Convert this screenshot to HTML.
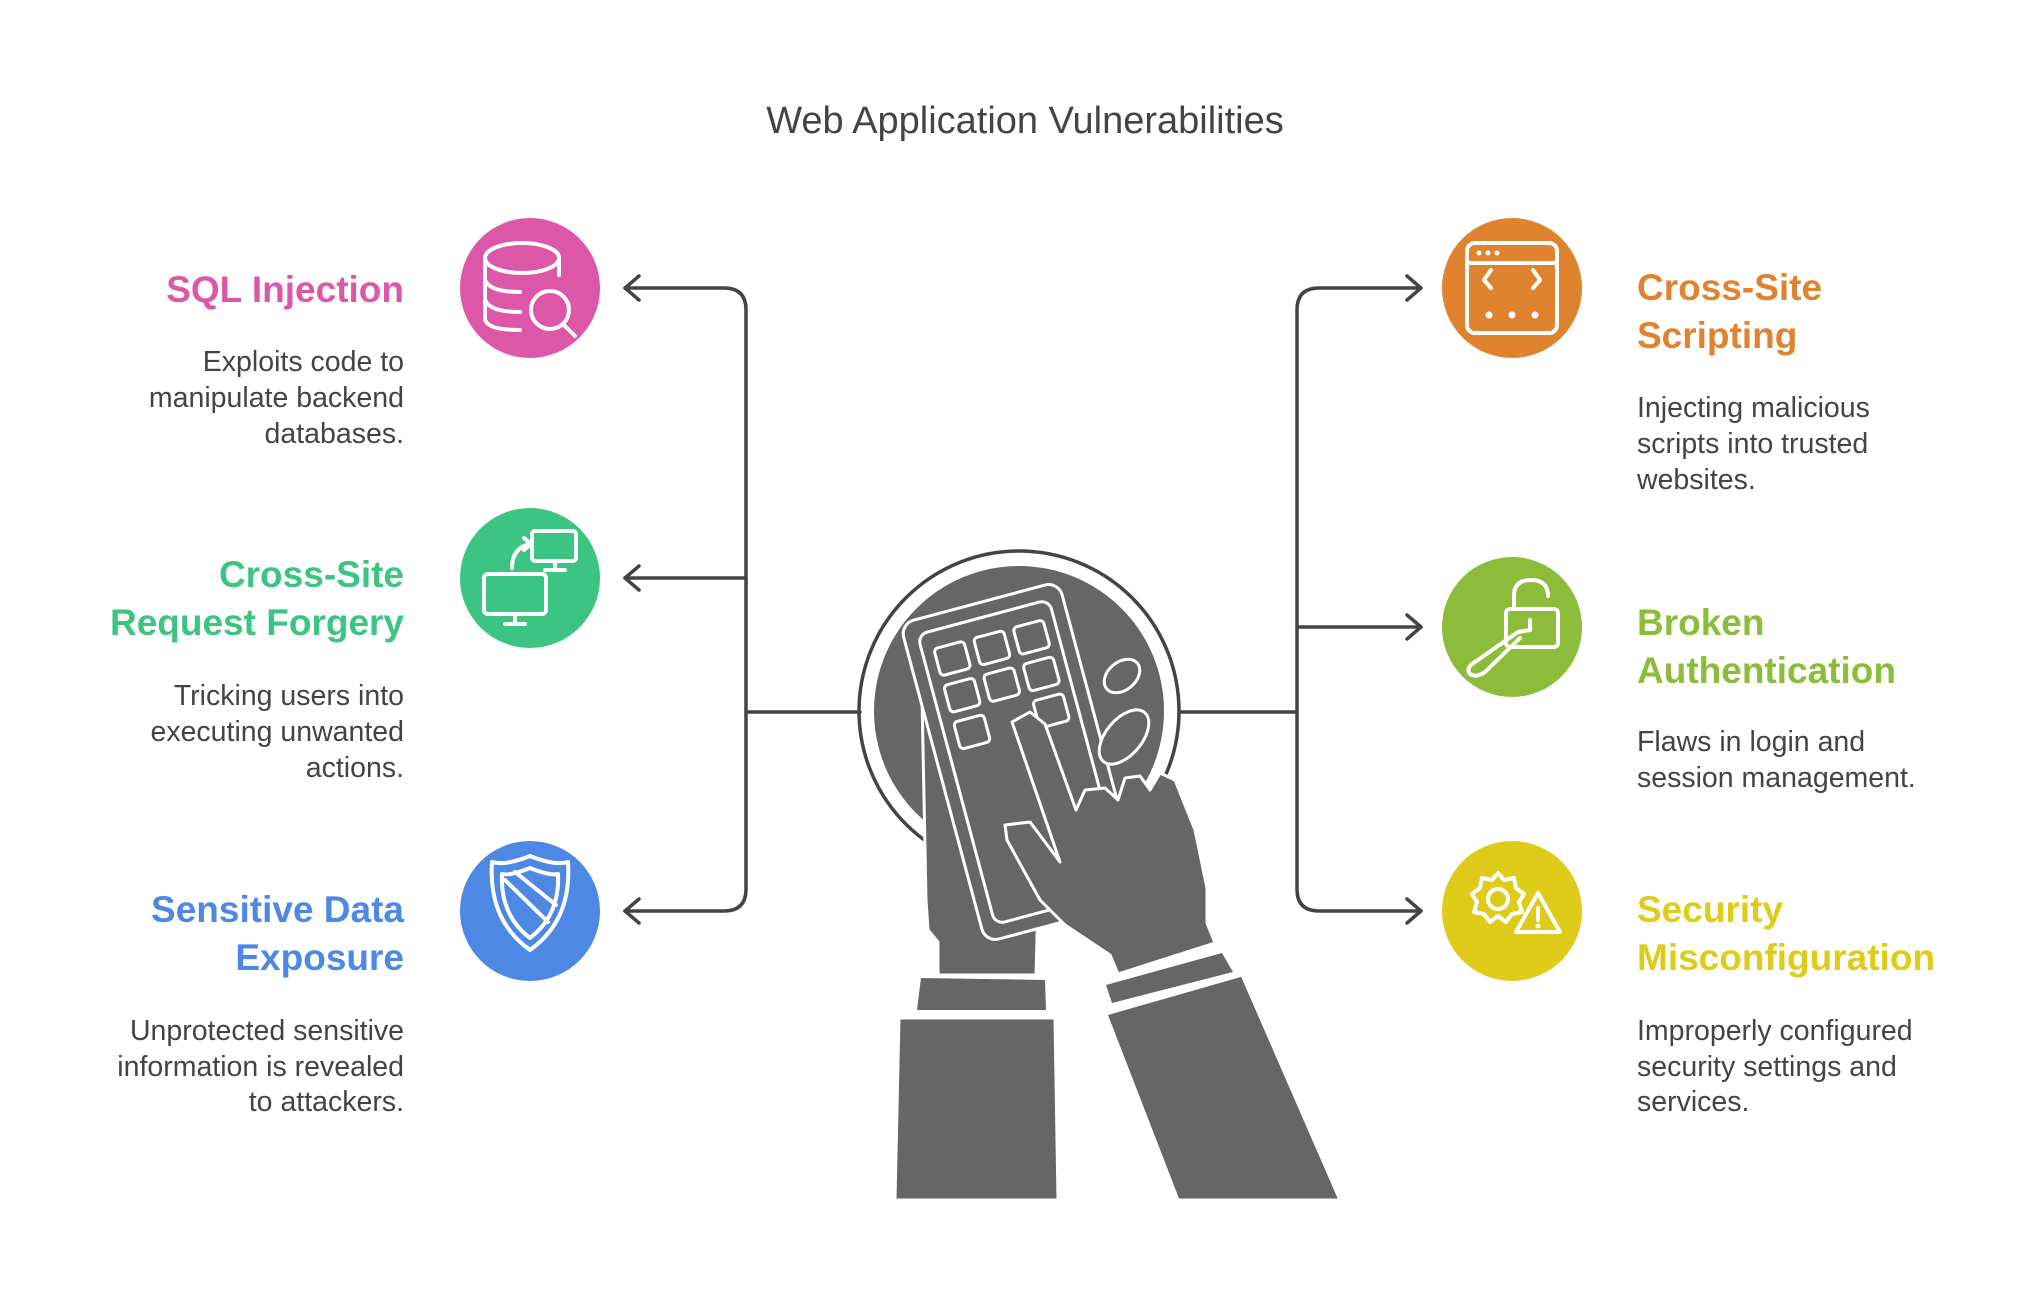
<!DOCTYPE html>
<html><head><meta charset="utf-8"><style>
html,body{margin:0;padding:0;background:#fff;}
svg{display:block;}
text{font-family:"Liberation Sans",Arial,sans-serif;}
.t{font-weight:bold;font-size:37px;}
.d{font-size:28.5px;fill:#444;}
</style></head><body>
<svg width="2040" height="1299" viewBox="0 0 2040 1299" xmlns="http://www.w3.org/2000/svg">
<text x="1025" y="133" text-anchor="middle" font-size="38" fill="#444">Web Application Vulnerabilities</text>

<!-- connectors -->
<g fill="none" stroke="#444" stroke-width="3.5" stroke-linecap="round" stroke-linejoin="round">
<path d="M625 288 H724 Q746 288 746 310 V889 Q746 911 724 911 H625"/>
<path d="M625 578 H746"/>
<path d="M746 712 H860"/>
<path d="M639 276 L625 288 L639 300"/>
<path d="M639 566 L625 578 L639 590"/>
<path d="M639 899 L625 911 L639 923"/>
<path d="M1421 288 H1319 Q1297 288 1297 310 V889 Q1297 911 1319 911 H1421"/>
<path d="M1297 627 H1421"/>
<path d="M1180 712 H1297"/>
<path d="M1407 276 L1421 288 L1407 300"/>
<path d="M1407 615 L1421 627 L1407 639"/>
<path d="M1407 899 L1421 911 L1407 923"/>
</g>

<!-- central -->
<circle cx="1019" cy="711" r="160" fill="none" stroke="#444" stroke-width="3.5"/>
<circle cx="1019" cy="711" r="145" fill="#666"/>
<!-- sleeves -->
<polygon points="899,1018 1055,1018 1058,1200 895,1200" fill="#666" stroke="#fff" stroke-width="3"/>
<polygon points="921,978 1045,980 1046,1010 917,1010" fill="#666"/>
<polygon points="1106,1014 1242,975 1340,1200 1178,1200" fill="#666" stroke="#fff" stroke-width="3"/>
<polygon points="1106,985 1222,953 1233,972 1112,1003" fill="#666"/>
<!-- left hand -->
<polygon points="922,697 943,702 955,716 957,748 990,840 1006,895 1055,882 1038,903 1036,975 938,975 938,942 928,930 926,900" fill="#666" stroke="#fff" stroke-width="3"/>
<!-- fingers behind phone -->
<ellipse cx="1122" cy="676" rx="20" ry="14" transform="rotate(-40 1122 676)" fill="#666" stroke="#fff" stroke-width="3"/>
<!-- phone -->
<g transform="translate(1022,762) rotate(-15)">
<rect x="-82" y="-165" width="164" height="330" rx="14" fill="#666" stroke="#fff" stroke-width="3"/>
<rect x="-68" y="-150" width="136" height="300" rx="10" fill="none" stroke="#fff" stroke-width="3"/>
<g fill="none" stroke="#fff" stroke-width="3">
<rect x="-56" y="-132" width="31" height="28" rx="4"/><rect x="-15" y="-132" width="31" height="28" rx="4"/><rect x="26" y="-132" width="31" height="28" rx="4"/>
<rect x="-56" y="-94" width="31" height="28" rx="4"/><rect x="-15" y="-94" width="31" height="28" rx="4"/><rect x="26" y="-94" width="31" height="28" rx="4"/>
<rect x="-56" y="-56" width="31" height="28" rx="4"/><rect x="26" y="-56" width="31" height="28" rx="4"/>
</g>
</g>
<!-- right hand -->
<polygon points="1012,722 1030,712 1045,724 1076,810 1085,790 1105,788 1118,800 1125,778 1140,776 1150,790 1160,773 1175,780 1195,830 1207,888 1207,923 1215,943 1118,974 1110,955 1065,925 1040,900 1007,840 1005,825 1030,822 1060,862" fill="#666" stroke="#fff" stroke-width="3" stroke-linejoin="round"/>
<ellipse cx="1124" cy="737" rx="18" ry="32" transform="rotate(40 1124 737)" fill="#666" stroke="#fff" stroke-width="3"/>

<!-- circles -->
<circle cx="530" cy="288" r="70" fill="#DD57A8"/>
<circle cx="530" cy="578" r="70" fill="#3CC483"/>
<circle cx="530" cy="911" r="70" fill="#4E88E5"/>
<circle cx="1512" cy="288" r="70" fill="#E0832E"/>
<circle cx="1512" cy="627" r="70" fill="#8DBB3A"/>
<circle cx="1512" cy="911" r="70" fill="#DECB1A"/>

<!-- icons -->
<g fill="none" stroke="#fff" stroke-width="4" stroke-linecap="round" stroke-linejoin="round">
<ellipse cx="522" cy="258" rx="37" ry="15"/>
<path d="M485 258 V318 Q485 330 520 330"/><path d="M559 258 V275"/>
<path d="M485 280 Q490 292 520 292"/><path d="M485 300 Q490 312 520 312"/>
<circle cx="550" cy="310" r="19"/><path d="M563 324 L575 336"/>
<rect x="484" y="574" width="62" height="40" rx="4"/><path d="M505 624 H525 M515 614 V624"/>
<rect x="532" y="531" width="44" height="30" rx="3"/><path d="M545 570 H565 M555 561 V570"/>
<path d="M512 568 Q512 548 530 544"/><path d="M524 538 L531 544 L524 550"/>
<path d="M530 856 Q555 866 568 862 Q572 920 530 950 Q488 920 492 862 Q505 866 530 856Z"/>
<path d="M530 868 Q550 876 558 874 Q560 915 530 938 Q500 915 502 874 Q510 876 530 868Z"/>
<path d="M505 880 L548 922 M515 872 L556 905"/>
<rect x="1467" y="243" width="90" height="90" rx="8"/><path d="M1467 263 H1557"/>
<path d="M1491 270 L1484 280 L1491 288 M1533 270 L1540 280 L1533 288"/>
<rect x="1506" y="609" width="52" height="38" rx="4"/>
<path d="M1514 609 V596 Q1514 580 1531 580 Q1548 580 1548 596"/>
<path d="M1530 620 V630 L1518 632 L1475 662 Q1465 668 1470 674 Q1476 678 1485 672 L1520 638"/>
<circle cx="1498" cy="899" r="10"/>
<path d="M1498 873 L1504 880 L1514 878 L1516 888 L1524 894 L1519 902 L1522 912 L1512 914 L1506 922 L1498 916 L1490 922 L1484 914 L1474 912 L1477 902 L1472 894 L1480 888 L1482 878 L1492 880Z"/>
<path d="M1538 893 L1560 932 H1516Z" fill="#DECB1A"/>
<path d="M1538 908 V920"/>
</g>
<g fill="#fff">
<circle cx="1479" cy="253" r="2.5"/><circle cx="1488" cy="253" r="2.5"/><circle cx="1497" cy="253" r="2.5"/>
<circle cx="1489" cy="315" r="3.5"/><circle cx="1512" cy="315" r="3.5"/><circle cx="1535" cy="315" r="3.5"/>
<circle cx="1538" cy="926" r="2.5"/>
</g>

<!-- left texts -->
<g text-anchor="end">
<text class="t" x="404" y="302" fill="#DD57A8">SQL Injection</text>
<text class="d" x="404" y="371">Exploits code to</text>
<text class="d" x="404" y="407">manipulate backend</text>
<text class="d" x="404" y="443">databases.</text>
<text class="t" x="404" y="587" fill="#3CC483">Cross-Site</text>
<text class="t" x="404" y="635" fill="#3CC483">Request Forgery</text>
<text class="d" x="404" y="705">Tricking users into</text>
<text class="d" x="404" y="741">executing unwanted</text>
<text class="d" x="404" y="777">actions.</text>
<text class="t" x="404" y="922" fill="#4E88E5">Sensitive Data</text>
<text class="t" x="404" y="970" fill="#4E88E5">Exposure</text>
<text class="d" x="404" y="1040">Unprotected sensitive</text>
<text class="d" x="404" y="1076">information is revealed</text>
<text class="d" x="404" y="1111">to attackers.</text>
</g>
<!-- right texts -->
<g>
<text class="t" x="1637" y="300" fill="#E0832E">Cross-Site</text>
<text class="t" x="1637" y="348" fill="#E0832E">Scripting</text>
<text class="d" x="1637" y="417">Injecting malicious</text>
<text class="d" x="1637" y="453">scripts into trusted</text>
<text class="d" x="1637" y="489">websites.</text>
<text class="t" x="1637" y="635" fill="#8DBB3A">Broken</text>
<text class="t" x="1637" y="683" fill="#8DBB3A">Authentication</text>
<text class="d" x="1637" y="751">Flaws in login and</text>
<text class="d" x="1637" y="787">session management.</text>
<text class="t" x="1637" y="922" fill="#DECB1A">Security</text>
<text class="t" x="1637" y="970" fill="#DECB1A">Misconfiguration</text>
<text class="d" x="1637" y="1040">Improperly configured</text>
<text class="d" x="1637" y="1076">security settings and</text>
<text class="d" x="1637" y="1111">services.</text>
</g>
</svg>
</body></html>
